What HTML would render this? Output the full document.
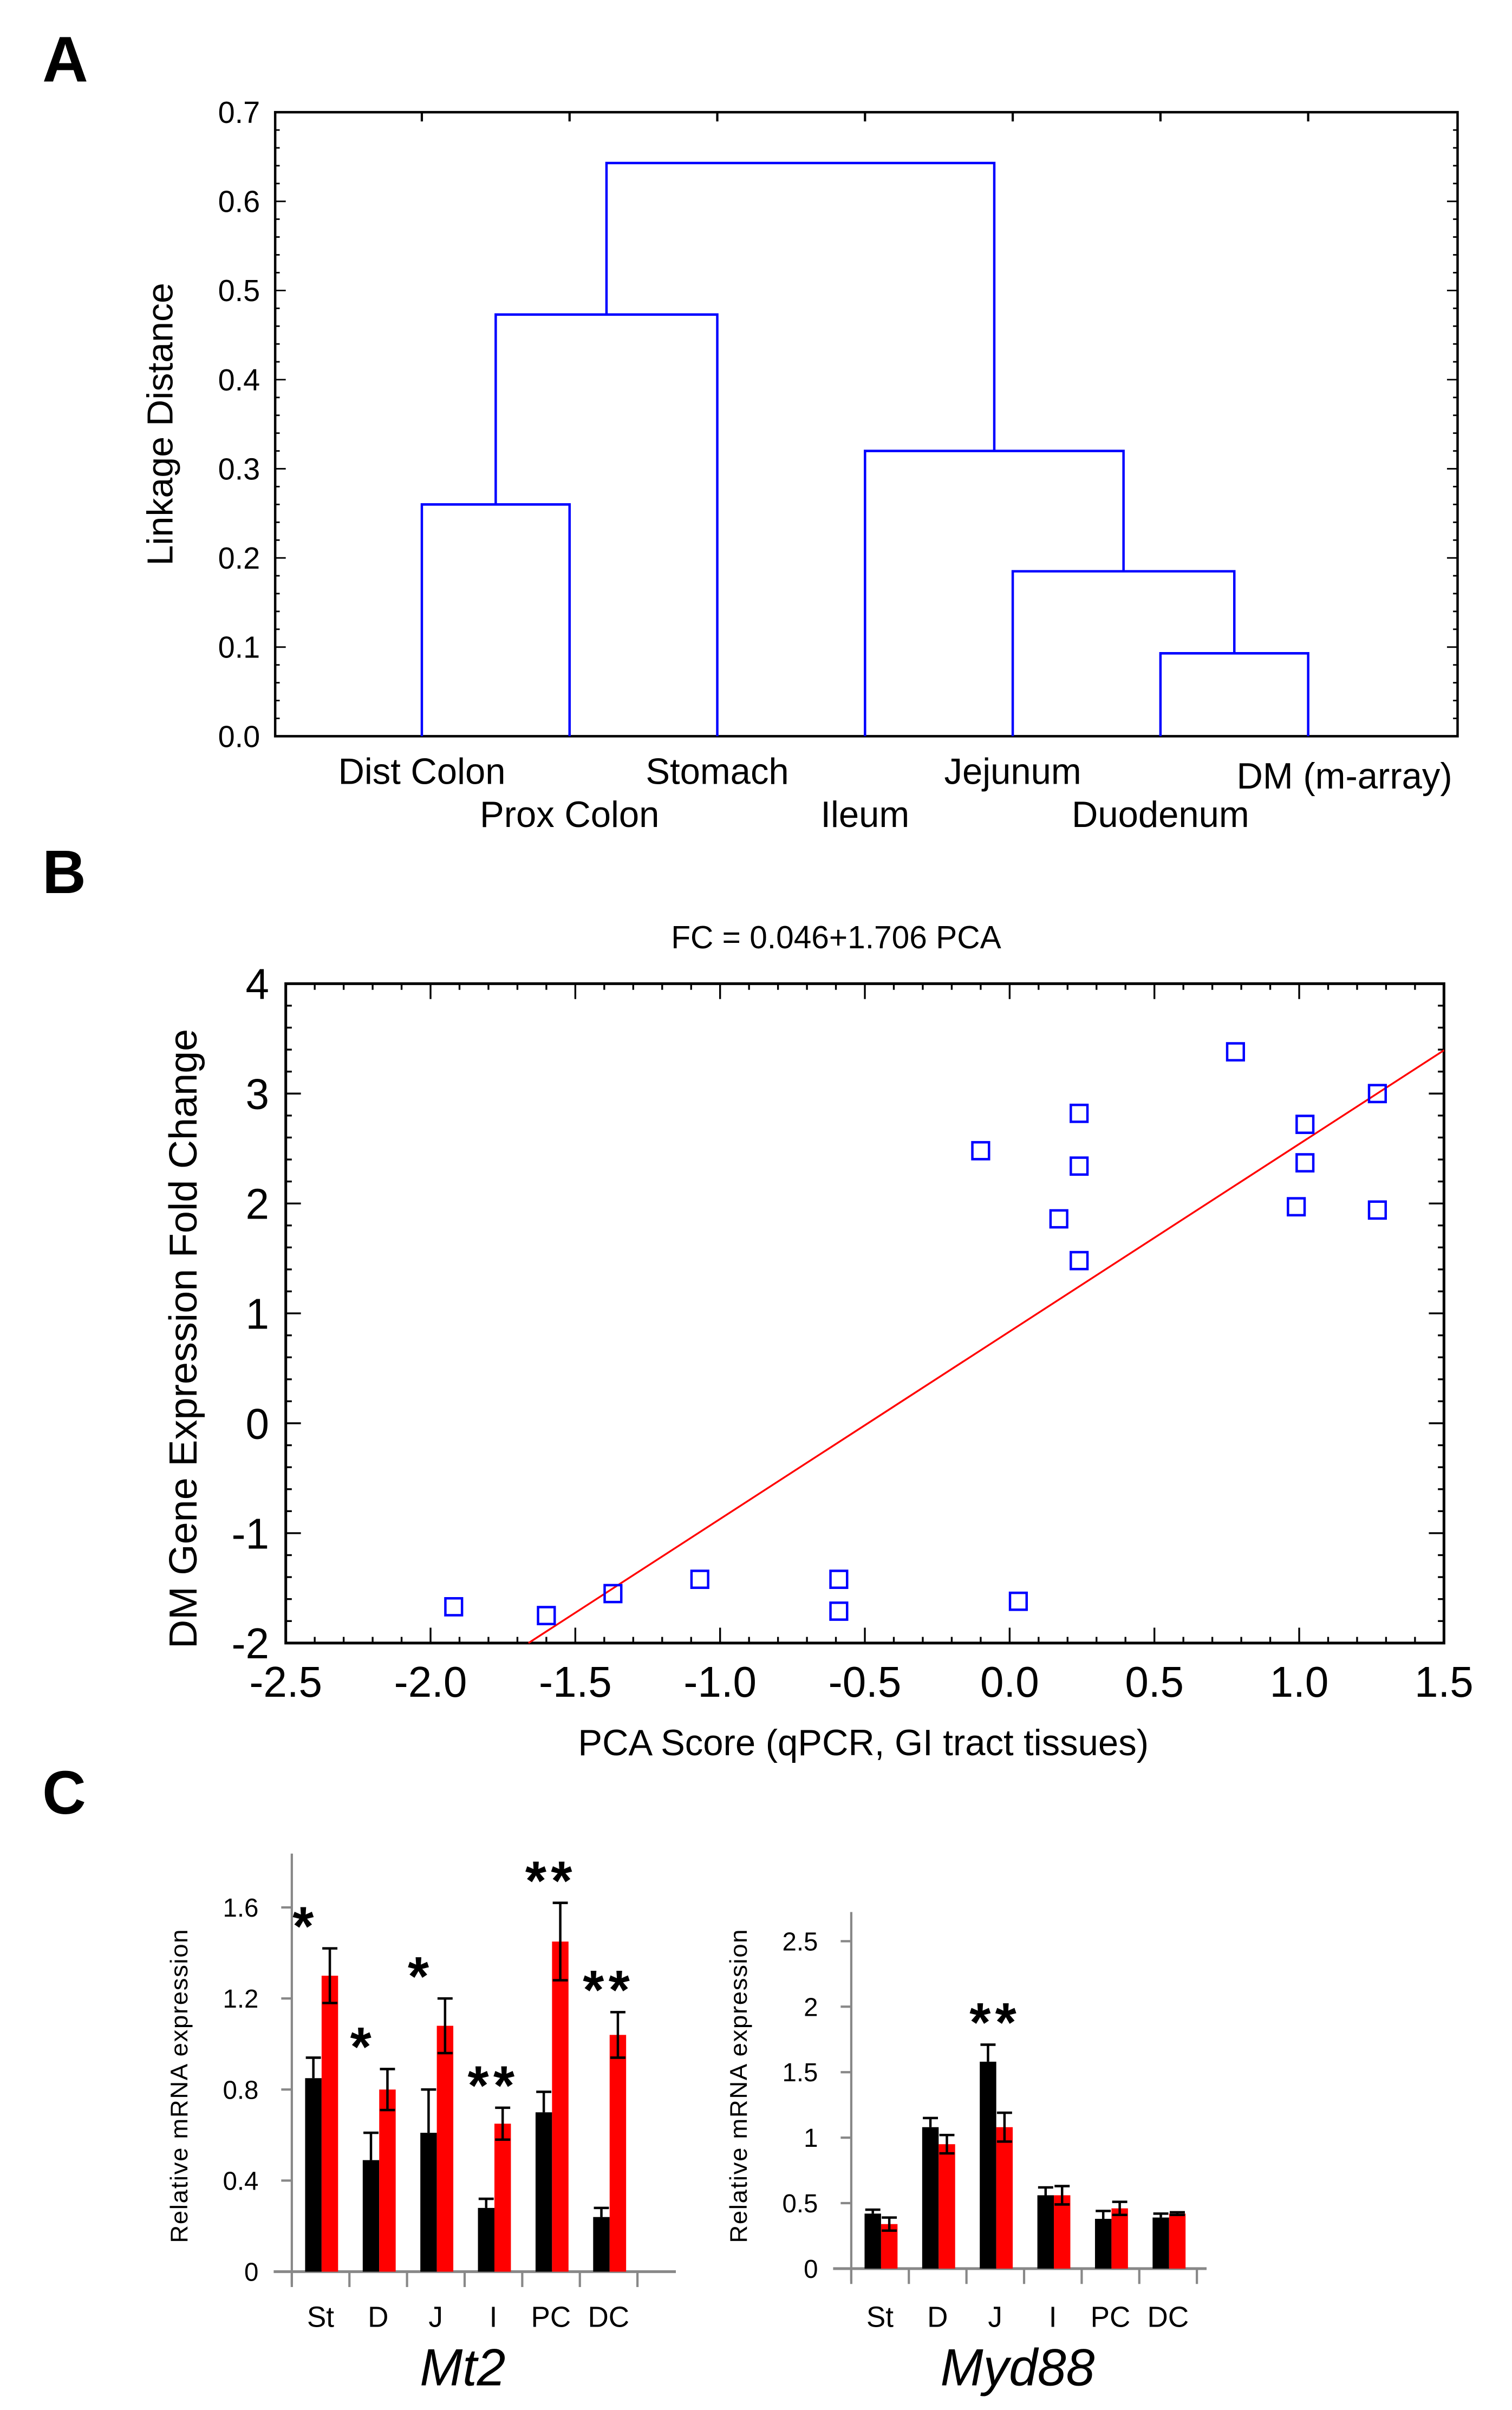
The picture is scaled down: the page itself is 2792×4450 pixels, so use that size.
<!DOCTYPE html>
<html><head><meta charset="utf-8"><style>
html,body{margin:0;padding:0;background:#fff;}
svg{display:block;}
text{font-family:"Liberation Sans",sans-serif;fill:#000;}
</style></head><body>
<svg id="fig" width="2792" height="4450" viewBox="0 0 1000 1568" preserveAspectRatio="none" xmlns="http://www.w3.org/2000/svg">
<text x="28" y="53" font-size="42" font-weight="bold">A</text>
<text x="28" y="581" font-size="40" font-weight="bold">B</text>
<text x="28" y="1180" font-size="40" font-weight="bold">C</text>
<g id="pa"></g>
<g id="pb"></g>
<g id="pc1"></g>
<g id="pc2"></g>
</svg>
<script>
// ---- Panel A data
const leafNames = ["Dist Colon","Prox Colon","Stomach","Ileum","Jejunum","Duodenum","DM (m-array)"];
const aTicks = [0.0,0.1,0.2,0.3,0.4,0.5,0.6,0.7];
const mergeLeftNode = [0,5,4,3,7,10];
const mergeRightNode = [1,6,8,9,2,11];
const mergeHeight = [0.26,0.093,0.185,0.32,0.473,0.643];
// ---- Panel B data
const pcaX = [-1.92,-1.6,-1.37,-1.07,-0.59,-0.59,0.03,-0.1,0.17,0.24,0.24,0.24,0.78,0.99,1.02,1.02,1.27,1.27];
const fcY  = [-1.67,-1.75,-1.55,-1.42,-1.42,-1.71,-1.62,2.48,1.86,2.82,2.34,1.48,3.38,1.97,2.72,2.37,3.0,1.94];
const bXTicks = [-2.5,-2.0,-1.5,-1.0,-0.5,0.0,0.5,1.0,1.5];
const bYTicks = [-2,-1,0,1,2,3,4];
const fitIntercept = 0.835, fitSlope = 1.706;
// ---- Panel C data
const cats = ["St","D","J","I","PC","DC"];
const mt2Black = [0.85,0.49,0.61,0.28,0.70,0.24];
const mt2BlackErr = [0.09,0.12,0.19,0.04,0.09,0.04];
const mt2Red = [1.30,0.80,1.08,0.65,1.45,1.04];
const mt2RedErr = [0.12,0.09,0.12,0.07,0.17,0.10];
const mt2Stars = ["*","*","*","**","**","**"];
const mt2Ticks = [0,0.4,0.8,1.2,1.6];
const mydBlack = [0.42,1.08,1.58,0.56,0.38,0.39];
const mydBlackErr = [0.03,0.07,0.13,0.06,0.06,0.03];
const mydRed = [0.34,0.95,1.08,0.56,0.46,0.42];
const mydRedErr = [0.05,0.07,0.11,0.07,0.05,0.01];
const mydStars = ["","","**","","",""];
const mydTicks = [0,0.5,1,1.5,2,2.5];

const NS="http://www.w3.org/2000/svg";
function mk(p,tag,at,txt){const e=document.createElementNS(NS,tag);for(const k in at)e.setAttribute(k,at[k]);if(txt!==undefined)e.textContent=txt;p.appendChild(e);return e;}

// ===== Panel A
(function(){
const g=document.getElementById('pa');
const L=182,R=964,T=73,B=479;
const ya=v=>B-(v/0.7)*(B-T);
const leafX=i=>279+i*97.7;
const fr=mk(g,'rect',{x:L,y:T,width:R-L,height:B-T,fill:'none',stroke:'#000','stroke-width':1.6});

for(let v=0;v<=0.7001;v+=0.02){const y=ya(v);const maj=Math.abs(v*10-Math.round(v*10))<1e-6;
 mk(g,'line',{x1:L,x2:L+(maj?7:3),y1:y,y2:y,stroke:'#000','stroke-width':1});
 mk(g,'line',{x1:R,x2:R-(maj?7:3),y1:y,y2:y,stroke:'#000','stroke-width':1});}
for(let i=0;i<7;i++){mk(g,'line',{x1:leafX(i),x2:leafX(i),y1:T,y2:T+6,stroke:'#000','stroke-width':1.5});}
aTicks.forEach(v=>{const t=mk(g,'text',{x:172,y:ya(v)+7,'font-size':20,'text-anchor':'end'},v.toFixed(1));
 
 });
const yt=mk(g,'text',{x:0,y:0,'font-size':24,'text-anchor':'middle',transform:'translate(114,276) rotate(-90)'},'Linkage Distance');


const nx=[],nh=[];
for(let i=0;i<7;i++){nx.push(leafX(i));nh.push(0);}
mergeHeight.forEach((h,k)=>{const a=mergeLeftNode[k],b=mergeRightNode[k];const y=ya(h);
 const p=mk(g,'path',{d:`M${nx[a]},${ya(nh[a])}V${y}H${nx[b]}V${ya(nh[b])}`,fill:'none',stroke:'#0000ff','stroke-width':1.6});
 
 
 nx.push((nx[a]+nx[b])/2);nh.push(h);});
const rowY=[510,538,510,538,510,538,513];
leafNames.forEach((n,i)=>{const t=mk(g,'text',{x:leafX(i)+(i==6?24:0),y:rowY[i],'font-size':24,'text-anchor':'middle'},n);
 
 });
})();

// ===== Panel B
(function(){
const g=document.getElementById('pb');
const L=189,R=955,T=640,B=1069;
const xs=v=>L+(v+2.5)/4*(R-L), ys=v=>B-(v+2)/6*(B-T);
const tt=mk(g,'text',{x:553,y:617,'font-size':21,'text-anchor':'middle'},'FC = 0.046+1.706 PCA');


const fr=mk(g,'rect',{x:L,y:T,width:R-L,height:B-T,fill:'none',stroke:'#000','stroke-width':1.8});

for(let i=0;i<=40;i++){const v=-2.5+i*0.1;const x=xs(v);const maj=i%5==0;
 mk(g,'line',{x1:x,x2:x,y1:B,y2:B-(maj?10:4),stroke:'#000','stroke-width':1.2});
 mk(g,'line',{x1:x,x2:x,y1:T,y2:T+(maj?10:4),stroke:'#000','stroke-width':1.2});}
for(let i=0;i<=30;i++){const v=-2+i*0.2;const y=ys(v);const maj=i%5==0;
 mk(g,'line',{x1:L,x2:L+(maj?10:4),y1:y,y2:y,stroke:'#000','stroke-width':1.2});
 mk(g,'line',{x1:R,x2:R-(maj?10:4),y1:y,y2:y,stroke:'#000','stroke-width':1.2});}
bXTicks.forEach(v=>{const t=mk(g,'text',{x:xs(v),y:1104,'font-size':28,'text-anchor':'middle'},v.toFixed(1));
 
 });
bYTicks.forEach(v=>{const t=mk(g,'text',{x:178,y:ys(v)+10,'font-size':28,'text-anchor':'end'},String(v));
 
 });
const xt=mk(g,'text',{x:571,y:1142,'font-size':24,'text-anchor':'middle'},'PCA Score (qPCR, GI tract tissues)');


const yt=mk(g,'text',{x:0,y:0,'font-size':26,'text-anchor':'middle',transform:'translate(130,871) rotate(-90)'},'DM Gene Expression Fold Change');


let x0=(-2-fitIntercept)/fitSlope, x1=1.5;
const ln=mk(g,'line',{x1:xs(x0),y1:ys(fitIntercept+fitSlope*x0),x2:xs(x1),y2:ys(fitIntercept+fitSlope*x1),stroke:'#ff0000','stroke-width':1.2});


pcaX.forEach((v,i)=>{const r=mk(g,'rect',{x:xs(v)-5.5,y:ys(fcY[i])-5.5,width:11,height:11,fill:'none',stroke:'#0000ff','stroke-width':1.6});
 
 });
})();

// ===== Panel C
function barChart(id,axL,base,topY,vmax,pxTop,ticks,black,bErr,red,rErr,stars,tickX,titleX,gene,geneX,axRight){
 const g=document.getElementById(id);
 const ys=v=>base-v/vmax*(base-pxTop);
 const sp=38.1,bw=10.9,off=8.8;
 mk(g,'line',{x1:axL,x2:axL,y1:topY,y2:base+8,stroke:'#888','stroke-width':1.5});
 mk(g,'line',{x1:axL-12,x2:axRight,y1:base,y2:base,stroke:'#888','stroke-width':1.8});
 for(let i=0;i<=6;i++){const x=axL+i*sp;mk(g,'line',{x1:x,x2:x,y1:base,y2:base+10,stroke:'#888','stroke-width':1.5});}
 ticks.forEach(v=>{const y=ys(v);mk(g,'line',{x1:axL-7,x2:axL,y1:y,y2:y,stroke:'#888','stroke-width':1.5});
  const t=mk(g,'text',{x:tickX,y:y+6,'font-size':17,'text-anchor':'end'},String(v));
  
  });
 const yt=mk(g,'text',{x:0,y:0,'font-size':16,'text-anchor':'middle','letter-spacing':'0.6',transform:`translate(${titleX},1357) rotate(-90)`},'Relative mRNA expression');
 
 
 cats.forEach((c,i)=>{const x0=axL+i*sp+off;
  const bb=mk(g,'rect',{x:x0,y:ys(black[i]),width:bw,height:base-ys(black[i]),fill:'#000'});
  
  
  const rb=mk(g,'rect',{x:x0+bw,y:ys(red[i]),width:bw,height:base-ys(red[i]),fill:'#ff0000'});
  
  
  const cb=x0+bw/2,cr=x0+bw*1.5;
  mk(g,'path',{d:`M${cb},${ys(black[i])}V${ys(black[i]+bErr[i])}M${cb-5},${ys(black[i]+bErr[i])}H${cb+5}`,stroke:'#000','stroke-width':1.6,fill:'none'});
  mk(g,'path',{d:`M${cr},${ys(red[i]-rErr[i])}V${ys(red[i]+rErr[i])}M${cr-5},${ys(red[i]+rErr[i])}H${cr+5}M${cr-5},${ys(red[i]-rErr[i])}H${cr+5}`,stroke:'#000','stroke-width':1.6,fill:'none'});
  const l=mk(g,'text',{x:axL+i*sp+19,y:1514,'font-size':19,'text-anchor':'middle'},c);
  
  
  if(stars[i]){const top=Math.max(black[i]+bErr[i],red[i]+rErr[i]);
   const s=mk(g,'text',{x:axL+i*sp+(stars[i].length==1?9:19),y:ys(top)-2,'font-size':36,'font-weight':'bold','text-anchor':'middle','letter-spacing':'3'},stars[i]);
   
   }
 });
 const gl=mk(g,'text',{x:geneX,y:1552,'font-size':34,'font-style':'italic','text-anchor':'middle'},gene);
 
 
}
barChart('pc1',193,1478,1206,1.6,1241,mt2Ticks,mt2Black,mt2BlackErr,mt2Red,mt2RedErr,mt2Stars,171,124,'Mt2',306,447);
barChart('pc2',563,1476,1244,2.5,1263,mydTicks,mydBlack,mydBlackErr,mydRed,mydRedErr,mydStars,541,494,'Myd88',673,798);
</script>
</body></html>
